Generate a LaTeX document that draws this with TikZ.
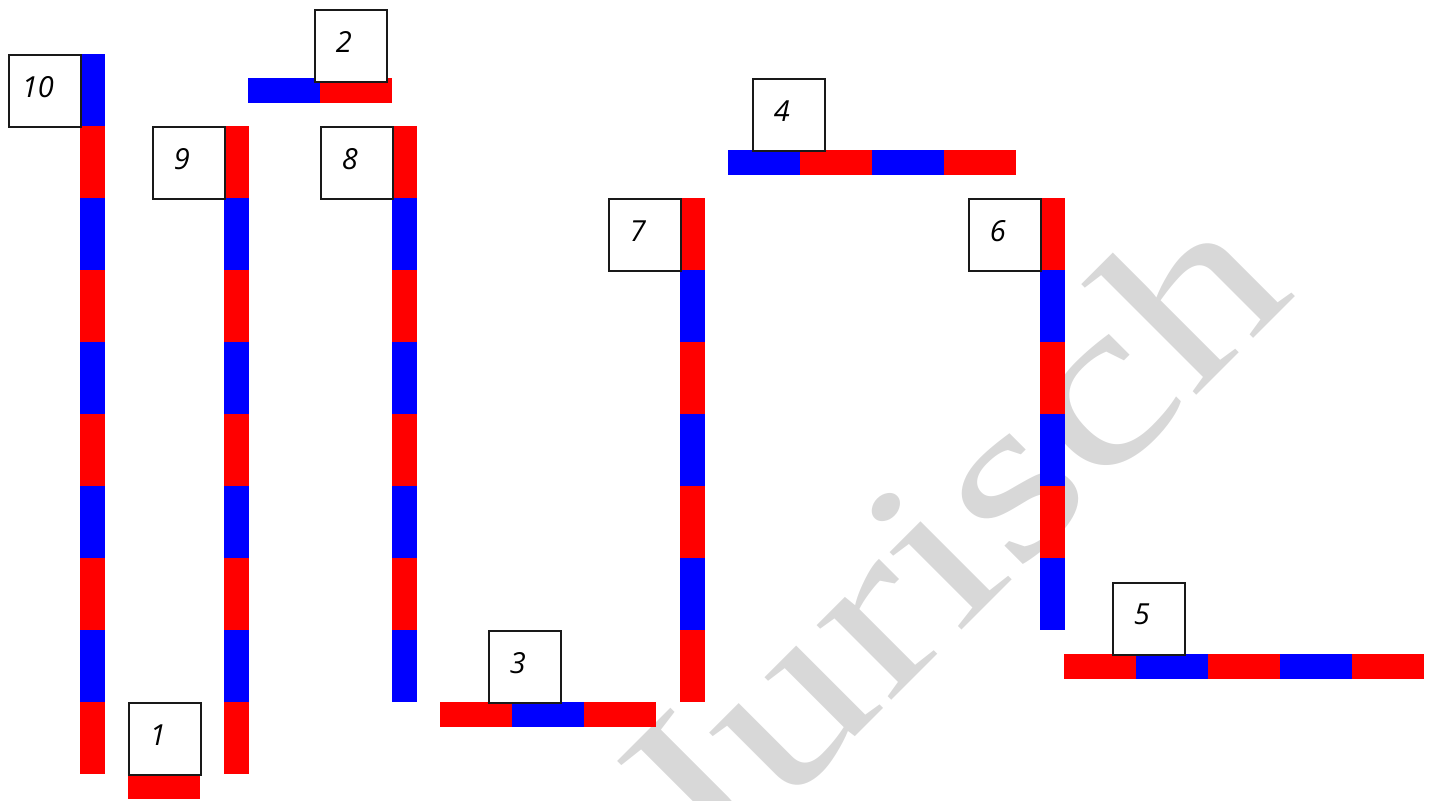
\documentclass[tikz,border=0pt]{standalone}
\usepackage{fontspec}
\usepackage{graphicx}
\setmainfont{Open Sans}
\newfontfamily\wmfont{Liberation Serif}
\usetikzlibrary{calc}
\definecolor{barred}{RGB}{255,0,0}
\definecolor{barblue}{RGB}{0,0,255}
\definecolor{wmgray}{RGB}{216,216,216}
\definecolor{boxline}{RGB}{25,25,25}
\tikzset{
  numbox/.style={draw=boxline, line width=1.5pt, fill=white, rectangle,
    minimum width=72pt, minimum height=72pt, inner sep=0pt, anchor=north west},
  numtext/.style={font=\itshape\fontsize{29}{29}\selectfont, inner sep=0pt},
  redseg/.style={fill=barred},
  blueseg/.style={fill=barblue}
}
% vertical bar: x, ytop, count, first colour index (0=red,1=blue)
\newcommand{\vbarx}[4]{%
  \foreach \k in {1,...,#3}{%
    \pgfmathtruncatemacro{\c}{mod(\k-1+#4,2)}%
    \ifnum\c=0 \fill[redseg] (#1,{#2+72*(\k-1)}) rectangle ({#1+25},{#2+72*\k});
    \else \fill[blueseg] (#1,{#2+72*(\k-1)}) rectangle ({#1+25},{#2+72*\k});\fi
  }}
% horizontal bar: xleft, ytop, count, first colour index
\newcommand{\hbarx}[4]{%
  \foreach \k in {1,...,#3}{%
    \pgfmathtruncatemacro{\c}{mod(\k-1+#4,2)}%
    \ifnum\c=0 \fill[redseg] ({#1+72*(\k-1)},#2) rectangle ({#1+72*\k},{#2+25});
    \else \fill[blueseg] ({#1+72*(\k-1)},#2) rectangle ({#1+72*\k},{#2+25});\fi
  }}
\begin{document}
\begin{tikzpicture}[x=1pt,y=-1pt]
\useasboundingbox (0,0) rectangle (1436,801);
\begin{scope}
\clip (0,0) rectangle (1436,801);
% watermark
\node[anchor=base west, rotate=45, inner sep=0pt, text=wmgray,
      font=\wmfont\fontsize{230}{230}\selectfont] (wm) at (699,893)
      {\scalebox{1.3}[1]{Jurisch}};
\end{scope}
% bars
\vbarx{80}{54}{10}{1}
\vbarx{224}{126}{9}{0}
\vbarx{392}{126}{8}{0}
\vbarx{680}{198}{7}{0}
\vbarx{1040}{198}{6}{0}
\hbarx{1064}{654}{5}{0}
\hbarx{728}{150}{4}{1}
\hbarx{440}{702}{3}{0}
\hbarx{248}{78}{2}{1}
\hbarx{128}{774}{1}{0}
% number boxes
\node[numbox] (b10) at (8,54) {};
\node[numbox] (b9) at (152,126) {};
\node[numbox] (b8) at (320,126) {};
\node[numbox] (b7) at (608,198) {};
\node[numbox] (b6) at (968,198) {};
\node[numbox] (b5) at (1112,582) {};
\node[numbox] (b4) at (752,78) {};
\node[numbox] (b3) at (488,630) {};
\node[numbox] (b2) at (314,9) {};
\node[numbox] (b1) at (128,702) {};
\foreach \n in {1,...,10}{
  \node[numtext] (t\n) at ($(b\n.center)+(-7,-4)$) {\n};
}
\end{tikzpicture}
\end{document}
